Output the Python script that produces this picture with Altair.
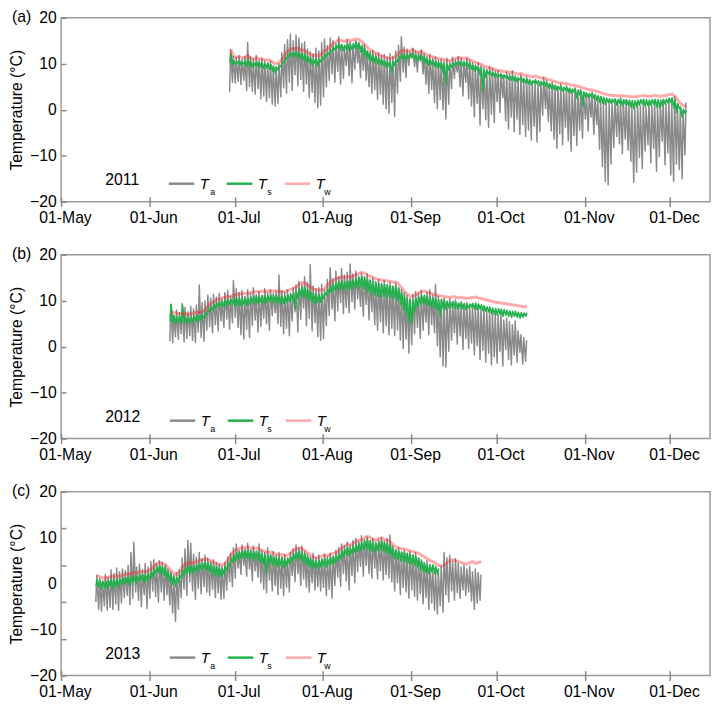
import altair as alt
import pandas as pd

FONT = "Liberation Sans"
SERIES = ["Ta", "Ts", "Tw"]
SUBS = ["a", "s", "w"]
COLORS = ["#8a8a8a", "#22b14c", "rgba(255, 30, 30, 0.38)"]
WIDTHS = [1.5, 1.6, 3.0]

# ---------------- (a) 2011 : daily extremes (deg C), first day 29 Jun ----------------
A_START = "2011-06-29"
A_TA_MAX = [13.0, 11.5,
    11.4, 11.8, 11.0, 11.6, 14.6, 11.5, 11.0, 11.8, 10.8, 11.2, 10.6, 10.2, 10.5, 9.6, 9.4, 10.0, 12.4, 14.2, 15.2, 16.4,
    15.0, 16.2, 15.6, 14.4, 14.8, 13.2, 12.6, 12.2, 13.4, 12.8, 14.6,
    15.4, 14.0, 15.6, 15.0, 14.4, 15.8, 14.2, 13.6, 15.2, 14.8, 13.8, 15.0, 14.6, 13.6, 14.2, 12.8, 12.6, 13.0, 12.2, 12.4,
    11.8, 12.0, 11.4, 12.2, 11.6, 12.8, 14.0, 15.8, 13.6, 13.2, 12.6,
    13.4, 12.8, 12.4, 13.0, 12.2, 11.6, 12.0, 11.2, 11.4, 10.8, 11.0, 10.6, 11.2, 10.4, 11.4, 10.8, 11.6, 11.2, 10.6, 11.2,
    10.8, 10.2, 9.8, 10.2, 9.6, 9.2, 8.8, 9.4, 9.0, 8.4,
    8.6, 8.0, 7.6, 8.2, 7.8, 8.4, 7.4, 7.0, 7.6, 6.8, 7.2, 6.6, 6.0, 6.4, 5.8, 6.2, 7.0, 6.4, 5.6, 6.0,
    5.4, 5.0, 5.6, 4.8, 5.2, 4.6, 4.2, 4.8, 4.0, 4.4, 3.8,
    3.6, 3.2, 3.8, 3.0, 2.6, 2.2, 1.8, 1.4, 2.0, 1.6, 2.4, 2.0, 2.6, 1.8, 2.2, 1.4, 1.0, 0.6, 1.2, 0.8,
    1.4, 0.4, 1.6, 1.0, 1.8, 0.8, 1.4, 2.2, 1.2, 2.4,
    1.6, 2.8, 1.0, 0.4, -0.4, 1.6]
A_TA_MIN = [3.8, 6.0,
    5.8, 6.2, 5.5, 6.4, 4.2, 5.0, 4.0, 3.4, 4.6, 2.4, 3.0, 1.8, 2.6, 1.2, 0.8, 1.4, 2.8, 4.8, 3.6, 6.0,
    4.2, 7.6, 5.2, 6.6, 4.0, 5.6, 2.6, 3.8, 1.6, 0.4, 1.0,
    2.8, 5.0, 6.4, 7.8, 6.0, 8.4, 5.6, 6.8, 9.6, 7.4, 5.8, 8.8, 10.2, 7.0, 8.6, 6.4, 5.0, 3.6, 4.4, 2.2,
    3.4, 1.2, 0.2, -0.8, 1.6, -1.4, 3.6, 6.2, 8.2, 7.0, 9.6,
    11.2, 9.4, 8.2, 10.6, 7.8, 5.6, 3.6, 4.4, 1.6, 0.2, 2.2, 0.0, -2.0, 1.2, 4.6, 6.8, 8.2, 5.0, 3.0, 6.0,
    2.4, 0.8, -1.6, 1.4, -3.4, 0.2, -2.2, -3.8, -1.0, -2.8,
    1.8, -0.6, 2.6, -2.4, -4.2, -1.6, -4.8, -2.0, -5.4, -3.2, -5.8, -4.4, -6.6, -3.6, -7.0, -4.8, -1.2, 0.2, -2.6, -4.6,
    -6.4, -8.4, -5.2, -7.6, -3.8, -6.8, -9.0, -5.6, -7.8, -4.4, -6.2,
    -2.0, -4.6, -1.6, -5.4, -3.2, -8.6, -12.4, -15.6, -16.4, -11.8, -8.2, -5.8, -7.4, -9.6, -6.4, -8.8, -11.2, -15.8, -13.6, -10.4,
    -12.8, -9.0, -7.6, -11.6, -8.4, -13.4, -10.2, -6.8, -12.0, -9.4,
    -14.2, -15.6, -11.8, -13.0, -15.0, -9.8]
A_TS_MAX = [12.3, 10.7,
    10.5, 10.7, 10.4, 10.6, 11.1, 10.4, 10.2, 10.5, 10.3, 10.2, 10.0, 10.1, 9.9, 9.4, 9.2, 9.5, 10.3, 11.3, 11.9, 12.5,
    12.4, 12.7, 12.4, 12.2, 12.0, 11.6, 11.3, 10.9, 11.1, 10.9, 11.4,
    12.0, 12.4, 13.0, 13.6, 14.0, 14.4, 14.2, 14.0, 14.4, 14.2, 14.4, 14.6, 14.5, 14.0, 13.4, 12.8, 12.2, 11.8, 11.5, 11.2,
    10.9, 10.7, 10.5, 10.3, 10.5, 10.8, 11.5, 12.1, 12.0, 11.9, 12.1,
    12.3, 11.9, 11.7, 11.9, 11.5, 11.1, 10.9, 10.7, 10.5, 10.3, 10.3, 10.1, 9.9, 9.9, 10.1, 10.3, 10.5, 10.5, 10.3, 10.5,
    10.1, 9.7, 9.5, 9.3, 9.1, 8.7, 8.5, 8.3, 8.1, 7.9,
    7.7, 7.7, 7.5, 7.5, 7.3, 7.4, 7.1, 6.9, 7.1, 6.7, 6.7, 6.5, 6.3, 6.5, 6.3, 6.1, 6.1, 5.9, 5.7, 5.5,
    5.3, 5.1, 5.1, 4.9, 4.9, 4.7, 4.5, 4.5, 4.3, 4.1, 3.9,
    3.7, 3.5, 3.5, 3.3, 3.1, 2.9, 2.7, 2.5, 2.4, 2.3, 2.3, 2.2, 2.3, 2.2, 2.1, 2.1, 2.0, 2.0, 2.1, 2.2,
    2.3, 2.2, 2.1, 2.2, 2.3, 2.2, 2.1, 2.2, 2.3, 2.5,
    2.6, 2.2, 1.3, 0.6, 0.1, -0.2]
A_TS_MIN = [10.2, 9.8,
    9.8, 10.0, 9.6, 9.9, 9.4, 9.6, 9.2, 9.5, 9.3, 9.2, 8.9, 9.1, 8.8, 8.4, 8.0, 8.6, 9.4, 10.2, 11.0, 11.6,
    11.4, 11.8, 11.2, 11.2, 10.8, 10.4, 10.2, 9.6, 10.0, 9.4, 10.4,
    11.0, 11.6, 12.0, 12.6, 13.0, 13.4, 13.0, 12.8, 13.2, 12.8, 13.0, 13.4, 13.2, 12.6, 11.8, 11.2, 10.8, 10.4, 10.2, 10.0,
    9.8, 9.6, 9.2, 9.4, 8.0, 9.6, 10.4, 11.2, 11.0, 10.8, 11.2,
    11.4, 11.0, 10.6, 11.0, 10.4, 10.0, 9.6, 9.8, 9.4, 9.2, 9.0, 8.0, 5.6, 8.6, 9.2, 9.6, 9.8, 9.6, 9.4, 9.6,
    9.0, 8.8, 8.4, 8.6, 7.4, 4.0, 7.0, 7.8, 7.4, 7.2,
    7.0, 7.2, 6.8, 7.0, 6.6, 6.4, 6.2, 6.0, 6.4, 6.0, 5.8, 5.6, 5.4, 5.8, 5.6, 5.2, 5.4, 5.2, 4.8, 4.6,
    4.4, 4.2, 4.4, 4.0, 4.2, 3.8, 3.6, 3.8, 2.4, 3.2, 0.8,
    2.8, 2.6, 2.8, 2.4, 2.0, 1.6, 1.4, 1.2, 1.6, 1.4, 1.6, 1.0, 1.4, 0.8, 1.2, 1.0, 0.6, 0.2, 0.6, 1.0,
    1.2, 0.6, 0.8, 1.0, 1.2, 0.6, 0.4, 0.8, 1.2, 1.4,
    1.6, 0.4, -0.6, 0.2, -1.6, -0.8]
A_TW = [13.2, 11.6,
    11.4, 11.5, 11.3, 11.4, 11.8, 11.2, 11.0, 11.3, 11.1, 11.0, 10.8, 10.9, 10.7, 10.2, 10.0, 10.3, 11.0, 12.0, 12.7, 13.3,
    13.2, 13.5, 13.2, 13.0, 12.8, 12.4, 12.1, 11.7, 11.9, 11.7, 12.2,
    12.8, 13.2, 13.8, 14.4, 14.8, 15.2, 15.0, 14.8, 15.2, 15.0, 15.2, 15.4, 15.3, 14.8, 14.2, 13.6, 13.0, 12.6, 12.3, 12.0,
    11.7, 11.5, 11.3, 11.1, 11.3, 11.6, 12.3, 12.9, 12.8, 12.7, 12.9,
    13.1, 12.7, 12.5, 12.7, 12.3, 11.9, 11.7, 11.5, 11.3, 11.1, 11.1, 10.9, 10.7, 10.7, 10.9, 11.1, 11.3, 11.3, 11.1, 11.3,
    10.9, 10.5, 10.3, 10.1, 9.9, 9.5, 9.3, 9.1, 8.9, 8.7,
    8.5, 8.5, 8.3, 8.3, 8.1, 8.2, 7.9, 7.7, 7.9, 7.5, 7.5, 7.3, 7.1, 7.3, 7.1, 6.9, 6.9, 6.7, 6.5, 6.3,
    6.1, 5.9, 5.9, 5.7, 5.7, 5.5, 5.3, 5.3, 5.1, 4.9, 4.7,
    4.5, 4.3, 4.3, 4.1, 3.9, 3.7, 3.5, 3.3, 3.2, 3.1, 3.1, 3.0, 3.1, 3.0, 2.9, 2.9, 2.8, 2.8, 2.9, 3.0,
    3.1, 3.0, 2.9, 3.0, 3.1, 3.0, 2.9, 3.0, 3.1, 3.3,
    3.4, 3.0, 2.1, 1.4, 0.9, 0.6]

# ---------------- (b) 2012 : first day 8 Jun ----------------
B_START = "2012-06-08"
B_TA_MAX = [9.2, 6.8, 8.0, 7.4, 9.4, 8.6, 7.6, 8.8, 8.2, 9.0, 13.4, 9.6, 10.0, 11.2, 10.6, 11.4, 10.8, 11.6, 10.4, 11.8,
    12.2, 11.0, 14.4,
    12.6, 11.8, 12.2, 11.0, 12.4, 11.6, 12.8, 11.4, 12.0, 11.2, 12.6, 11.8, 12.4, 11.6, 12.0, 15.6, 12.2, 11.8, 12.4, 11.6,
    12.8, 13.4, 14.2, 13.6, 15.2, 14.0, 17.8, 13.2, 12.6, 12.8, 13.6,
    12.4, 14.6, 17.2, 14.8, 16.4, 15.2, 17.0, 15.6, 16.2, 18.0, 15.8, 16.4, 15.4, 16.0, 15.2, 15.8, 14.6, 15.0, 14.2, 14.6,
    13.8, 14.4, 13.6, 14.0, 13.2, 13.8, 12.8, 12.4, 11.8, 11.2, 10.6,
    11.4, 12.0, 11.6, 12.2, 11.0, 11.8, 12.4, 11.2, 13.6, 11.0, 10.2, 10.6, 9.8, 10.4, 9.6, 10.2, 9.4, 9.8, 9.2, 9.6,
    8.8, 9.4, 8.6, 9.0, 8.4, 8.8, 7.8, 8.2, 7.6, 7.2,
    6.8, 7.4, 5.8, 6.2, 5.4, 4.8, 5.6, 3.4, 2.6, 2.0, 1.4]
B_TA_MIN = [1.2, 0.8, 2.2, 1.6, 2.8, 1.0, 1.8, 2.4, 1.4, 0.9, 3.2, 2.0, 1.2, 3.6, 4.4, 3.0, 4.8, 3.4, 5.6, 4.2,
    6.0, 3.8, 5.2,
    6.4, 4.2, 2.6, 1.6, 3.8, 2.0, 4.6, 5.8, 3.2, 4.4, 6.2, 5.0, 3.6, 6.8, 7.4, 5.0, 4.4, 2.8, 4.0, 2.4,
    5.6, 7.6, 3.2, 6.0, 8.4, 4.6, 6.2, 3.4, 5.2, 2.2, 1.4,
    1.8, 4.6, 6.8, 8.2, 5.6, 7.8, 9.6, 7.2, 8.6, 7.4, 9.8, 8.2, 10.4, 8.8, 6.6, 9.2, 5.8, 7.6, 4.8, 3.6,
    5.4, 3.0, 4.6, 2.6, 4.0, 2.4, 3.6, 1.4, -0.4, 1.6, -1.4,
    0.4, 2.8, 4.2, 1.8, 3.6, 5.4, 2.6, 4.8, 3.0, 0.2, -2.2, -4.2, -4.4, -1.0, 1.4, 3.0, 0.6, 2.4, -0.6, 1.8,
    -0.4, 0.8, -1.8, 0.2, -2.8, -0.8, -3.4, -1.4, -4.0, -2.2,
    -3.6, -1.0, -4.2, -0.6, -2.8, -4.0, -1.8, -3.4, -1.2, -3.8, -3.2]
B_TS_MAX = [9.2, 6.7, 6.5, 6.6, 9.0, 6.5, 6.3, 6.5, 6.6, 6.8, 6.7, 6.9, 7.3, 8.1, 8.7, 9.1, 9.5, 9.7, 9.9, 10.1,
    10.2, 10.3, 10.5,
    10.4, 10.5, 10.5, 10.6, 10.6, 10.8, 10.9, 11.0, 10.9, 11.1, 11.0, 11.1, 11.2, 11.1, 11.2, 11.0, 10.9, 11.0, 11.2, 11.4,
    11.7, 12.0, 12.6, 13.0, 12.8, 12.4, 11.9, 11.6, 11.4, 11.3, 11.4,
    11.7, 12.5, 13.1, 13.5, 13.9, 14.1, 14.3, 14.1, 14.4, 14.2, 14.5, 14.8, 15.0, 15.3, 15.1, 14.7, 14.4, 14.1, 13.9, 13.7,
    13.6, 13.5, 13.4, 13.3, 13.1, 13.2, 12.7, 11.9, 11.1, 10.5, 10.1,
    10.1, 10.4, 10.8, 11.1, 11.2, 11.0, 10.7, 10.6, 10.4, 10.2, 10.3, 10.1, 9.9, 9.7, 9.9, 9.7, 9.5, 9.6, 9.4, 9.2,
    9.3, 9.4, 9.5, 9.3, 9.1, 8.9, 8.7, 8.6, 8.4, 8.3,
    8.3, 8.2, 8.1, 7.9, 7.8, 7.7, 7.7, 7.5, 7.4, 7.3, 7.4]
B_TS_MIN = [5.6, 5.2, 5.0, 5.4, 5.0, 5.3, 5.1, 5.4, 5.2, 5.6, 5.4, 5.8, 6.2, 7.0, 7.6, 8.0, 8.4, 8.6, 8.8, 8.6,
    9.0, 9.2, 9.2,
    8.8, 9.0, 8.8, 9.2, 9.0, 9.2, 9.4, 9.6, 9.2, 9.6, 9.4, 9.6, 9.8, 9.6, 9.8, 9.4, 9.2, 9.4, 9.6, 9.8,
    10.0, 8.2, 10.4, 11.0, 10.8, 10.4, 10.0, 9.8, 9.4, 9.6, 9.6,
    10.4, 11.2, 11.6, 12.0, 12.2, 12.4, 12.6, 12.2, 12.6, 12.4, 12.6, 12.8, 12.8, 13.0, 12.6, 12.2, 11.8, 11.4, 11.2, 11.0,
    10.8, 11.0, 10.6, 10.8, 10.4, 10.6, 10.0, 9.2, 8.0, 7.0, 5.4,
    5.2, 7.6, 8.6, 9.2, 9.4, 9.0, 8.8, 8.6, 8.4, 8.0, 6.4, 8.2, 8.0, 8.4, 8.6, 8.4, 8.2, 8.4, 8.2, 8.0,
    8.4, 8.6, 8.2, 8.0, 8.2, 7.8, 7.6, 7.6, 7.2, 7.0,
    6.8, 7.0, 6.6, 6.8, 6.6, 6.4, 6.6, 6.4, 6.2, 6.4, 6.6]
B_TW = [7.6, 7.4, 7.2, 7.3, 7.1, 7.2, 7.0, 7.2, 7.3, 7.5, 7.4, 7.6, 8.0, 8.8, 9.4, 9.8, 10.2, 10.4, 10.6, 10.8,
    10.9, 11.0, 11.2,
    11.4, 11.5, 11.5, 11.6, 11.6, 11.8, 11.9, 12.0, 11.9, 12.1, 12.0, 12.1, 12.2, 12.1, 12.2, 12.0, 11.9, 12.0, 12.2, 12.4,
    12.7, 13.0, 13.6, 14.0, 13.8, 13.4, 12.9, 12.6, 12.4, 12.3, 12.4,
    12.6, 13.4, 14.0, 14.4, 14.8, 15.0, 15.2, 15.0, 15.3, 15.1, 15.4, 15.7, 15.9, 16.2, 16.0, 15.6, 15.3, 15.0, 14.8, 14.6,
    14.5, 14.4, 14.3, 14.2, 14.0, 14.1, 13.6, 12.8, 12.0, 11.4, 11.0,
    11.0, 11.3, 11.7, 12.0, 12.1, 11.9, 11.6, 11.5, 11.3, 11.1, 11.0, 10.9, 10.8, 10.7, 10.9, 10.8, 10.6, 10.7, 10.6, 10.5,
    10.6, 10.7, 10.8, 10.6, 10.5, 10.3, 10.1, 10.0, 9.8, 9.7,
    9.6, 9.5, 9.4, 9.3, 9.2, 9.1, 9.0, 8.9, 8.8, 8.7, 8.8]

# ---------------- (c) 2013 : first day 13 May ----------------
C_START = "2013-05-13"
C_TA_MAX = [1.8, 1.2, 0.6, 2.0, 1.4, 3.0, 2.2, 3.4, 2.6, 3.2, 2.8, 4.0, 6.8, 9.0, 3.6, 4.2, 3.0, 4.4, 3.6,
    4.8, 5.2, 4.4, 5.0, 4.6, 4.0, 3.2, 2.6, 1.8, 2.4, 3.0, 5.6, 7.6, 9.4, 8.8, 6.4, 5.8, 6.8, 5.4, 6.2,
    5.6, 4.8, 5.2, 4.6, 4.2, 3.8, 4.6, 5.8, 6.6, 7.8,
    8.6, 7.2, 8.4, 7.6, 8.8, 7.4, 8.2, 7.0, 8.6, 7.2, 6.8, 7.8, 6.4, 7.0, 6.2, 6.8, 5.8, 6.4, 5.6, 6.8,
    7.6, 8.4, 7.8, 8.2, 7.0, 6.4, 5.8, 6.6, 5.6, 6.2, 5.4,
    6.4, 5.8, 6.6, 6.0, 7.2, 7.8, 8.6, 8.2, 9.0, 8.4, 9.4, 9.8, 9.2, 10.4, 9.6, 10.2, 9.4, 9.8, 9.0, 9.6,
    10.0, 9.2, 9.8, 10.6, 8.2, 7.4, 7.8, 6.8, 7.2, 6.6, 7.0,
    6.2, 6.8, 5.6, 5.2, 4.6, 5.0, 4.2, 3.6, 3.0, 2.6, 3.8, 6.8, 5.6, 6.2, 4.8, 5.4, 4.4, 3.6, 4.0, 3.2,
    3.8, 2.6, 3.2, 2.4, 2.0]
C_TA_MIN = [-4.0, -5.6, -6.0, -4.8, -5.8, -5.2, -5.6, -4.4, -5.8, -4.2, -3.0, -2.6, -4.6, -3.2, -1.8, -3.6, -5.0, -2.4, -5.4,
    -3.2, -1.6, -2.8, -4.0, -1.8, -3.6, -2.4, -4.6, -6.4, -8.2, -5.6, -3.0, -1.2, -2.6, 0.4, -1.6, -3.4, -1.0, -2.2, -0.6,
    -1.8, -2.6, -1.2, -3.0, -2.0, -3.4, -3.2, -1.4, 0.4, -0.6,
    1.2, 3.4, 2.0, 4.0, 1.6, 3.2, 0.6, 2.8, 1.4, 0.2, -1.2, -2.0, 0.8, -1.6, -0.4, -2.4, -1.0, -2.6, -0.8, -1.8,
    1.8, 0.4, 2.2, -0.4, 1.0, -0.8, -1.8, 0.2, -1.4, -0.6, -1.6,
    -0.8, -2.6, -1.2, -3.2, -0.4, 1.4, -0.6, 2.2, 0.6, -1.4, 1.8, 0.2, 2.6, 3.8, 1.6, 4.0, 2.2, 1.2, 3.4, 1.0,
    2.8, 0.8, 2.0, 1.2, 0.4, -1.6, 0.2, -2.4, -0.8, -1.8, -3.2,
    -1.4, -2.8, -3.6, -2.2, -4.4, -3.0, -5.6, -4.2, -5.8, -6.6, -4.8, -6.2, -2.4, -4.0, -1.6, -3.6, -2.0, -3.2, -1.4, -2.6,
    -1.8, -3.8, -5.6, -4.2, -3.6]
C_TS_MAX = [0.9, 0.7, 0.5, 0.6, 0.7, 0.9, 0.7, 1.1, 0.9, 1.2, 1.3, 1.5, 1.4, 1.7, 1.6, 1.9, 2.0, 1.9, 2.1,
    2.5, 3.1, 3.7, 3.9, 3.7, 3.5, 2.7, 2.1, 1.5, 1.3, 1.9, 2.9, 3.5, 3.9, 3.7, 3.9, 4.1, 4.3, 4.5, 4.7,
    4.5, 4.3, 3.9, 3.7, 3.5, 3.3, 3.7, 4.5, 5.5, 6.3,
    6.7, 6.9, 7.1, 7.2, 7.3, 7.1, 6.9, 7.1, 6.8, 6.5, 6.3, 6.1, 6.2, 5.9, 5.7, 5.5, 5.7, 5.3, 5.5, 5.9,
    6.5, 6.9, 7.1, 6.9, 6.5, 5.9, 5.5, 5.1, 4.9, 5.1, 5.3,
    5.5, 5.3, 5.7, 5.9, 6.1, 6.5, 7.1, 7.5, 7.9, 7.7, 8.1, 8.5, 8.7, 8.9, 9.3, 9.6, 9.3, 8.9, 8.7, 9.1,
    9.3, 8.9, 8.7, 8.5, 7.7, 7.3, 7.1, 6.9, 6.8, 6.6, 6.4,
    6.2, 5.9, 5.5, 4.9, 4.5, 4.1, 3.9, 4.1, 3.7, 3.3]
C_TS_MIN = [-0.6, -0.8, -1.2, -0.9, -1.0, -0.6, -1.2, -0.4, -0.8, -0.2, 0.0, 0.2, -0.4, 0.4, 0.0, 0.6, 0.8, 0.2, 0.6,
    1.0, 1.6, 2.2, 2.4, 2.0, 1.8, 1.0, 0.4, -0.2, -0.6, 0.2, 1.2, 1.8, 2.4, 2.0, 2.4, 2.6, 2.8, 3.0, 3.2,
    2.8, 2.6, 2.0, 1.8, 1.6, 1.4, 2.0, 2.8, 3.8, 4.6,
    5.0, 5.2, 5.4, 5.6, 5.6, 5.4, 5.0, 5.4, 5.0, 4.6, 4.2, 2.4, 4.4, 4.0, 3.8, 3.6, 4.0, 3.4, 3.8, 4.2,
    4.8, 5.2, 5.4, 5.0, 4.6, 4.0, 3.6, 3.4, 3.2, 3.4, 3.6,
    3.8, 3.6, 4.0, 4.2, 4.4, 4.8, 5.4, 5.8, 6.2, 6.0, 6.4, 6.8, 7.0, 7.2, 7.4, 7.6, 7.2, 7.0, 6.8, 7.2,
    7.4, 7.0, 6.6, 6.4, 5.8, 5.4, 5.2, 5.0, 4.8, 4.6, 4.4,
    4.2, 4.0, 3.6, 3.0, 2.6, 2.4, 2.2, 2.6, 2.2, 2.0]
C_TW = [1.8, 1.5, 1.2, 1.3, 1.4, 1.6, 1.5, 1.8, 1.6, 1.9, 2.0, 2.2, 2.1, 2.4, 2.3, 2.6, 2.7, 2.6, 2.8,
    3.2, 3.8, 4.4, 4.6, 4.4, 4.2, 3.4, 2.8, 2.2, 2.0, 2.6, 3.6, 4.2, 4.6, 4.4, 4.6, 4.8, 5.0, 5.2, 5.4,
    5.2, 5.0, 4.6, 4.4, 4.2, 4.0, 4.4, 5.2, 6.2, 7.0,
    7.4, 7.6, 7.8, 7.9, 8.0, 7.8, 7.6, 7.8, 7.5, 7.2, 7.0, 6.8, 6.9, 6.6, 6.4, 6.2, 6.4, 6.0, 6.2, 6.6,
    7.2, 7.6, 7.8, 7.6, 7.2, 6.6, 6.2, 5.8, 5.6, 5.8, 6.0,
    6.2, 6.0, 6.4, 6.6, 6.8, 7.2, 7.8, 8.2, 8.6, 8.4, 8.8, 9.2, 9.4, 9.6, 10.0, 10.3, 10.0, 9.6, 9.4, 9.8,
    10.0, 9.6, 9.4, 9.2, 8.4, 8.0, 7.8, 7.6, 7.5, 7.3, 7.1,
    7.0, 6.8, 6.6, 6.2, 5.8, 5.4, 5.0, 4.8, 4.4, 4.0, 3.8, 4.0, 4.6, 5.0, 5.2, 5.0, 4.8, 4.6, 4.4, 4.2,
    4.6, 4.8, 4.4, 4.6, 4.8]

Y_TICKS = [-20, -10, 0, 10, 20]
C_TICK_MARKS = [-20, -12, -4, 4, 12, 20]   # panel (c) draws its ticks at these values

# legend geometry (px)
SYM_W = 26
T_OFFSET = 4
T_WIDTH = 9.2          # italic "T" at 15 px
SUB_GAP = 1.0
SUB_WIDTH_MAX = 6.5    # "w" at 9 px
COL_PAD = 12
SUB_PAD_FIX = 3.4      # measured pitch difference between the two legends
TITLE_W = 35.6         # "2011" at 16 px
TITLE_PAD = 28
LEG_X = 45
LEG_Y = 154


def build(start, ta_max, ta_min, ts_max, ts_min, tw):
    d0 = pd.Timestamp(start)
    rows = []
    for i, (hi, lo) in enumerate(zip(ta_max, ta_min)):
        d = d0 + pd.Timedelta(days=i)
        rows.append((d + pd.Timedelta(hours=5), lo, "Ta"))
        rows.append((d + pd.Timedelta(hours=13), hi, "Ta"))
    for i, (hi, lo) in enumerate(zip(ts_max, ts_min)):
        d = d0 + pd.Timedelta(days=i)
        rows.append((d + pd.Timedelta(hours=7), lo, "Ts"))
        rows.append((d + pd.Timedelta(hours=16), hi, "Ts"))
    for i, v in enumerate(tw):
        d = d0 + pd.Timedelta(days=i)
        rows.append((d + pd.Timedelta(hours=15), v, "Tw"))
    df = pd.DataFrame(rows, columns=["t", "v", "series"])
    df["sub"] = df["series"].map(dict(zip(SERIES, SUBS)))
    df["t"] = df["t"].dt.strftime("%Y-%m-%dT%H:%M:%S")
    return df


def panel(df, year, letter, tick_marks=None):
    def dt(m, d):
        return alt.DateTime(year=year, month=m, date=d)

    x = alt.X("t:T",
              scale=alt.Scale(domain=[dt(5, 1), dt(12, 15)]),
              axis=alt.Axis(values=[dt(m, 1) for m in range(5, 13)], format="%d-%b", title=None,
                            offset=-5, tickSize=10, labelPadding=3, labelOffset=4,
                            labelFlush=False, domain=False, grid=False))
    yscale = alt.Scale(domain=[-20, 20], nice=False, zero=False)
    y_main = alt.Y("v:Q", scale=yscale,
                   axis=alt.Axis(values=Y_TICKS, title="Temperature (°C)", orient="left", offset=-5,
                                 tickSize=5, tickOpacity=0 if tick_marks else 1,
                                 labelPadding=5, titlePadding=5, domain=False, grid=False))
    if tick_marks:
        y_ticks = alt.Y("v:Q", scale=yscale,
                        axis=alt.Axis(values=tick_marks, labels=False, title=None, orient="left",
                                      offset=-5, tickSize=5, domain=False, grid=False))
        y_none = alt.Y("v:Q", scale=yscale, axis=None)
        ys = [y_ticks, y_main, y_none]
    else:
        ys = [y_main, y_main, y_main]

    color = alt.Color("series:N",
                      scale=alt.Scale(domain=SERIES, range=COLORS),
                      legend=alt.Legend(title=str(year), orient="none", legendX=LEG_X, legendY=LEG_Y,
                                        direction="horizontal", titleOrient="left",
                                        titleAnchor="middle", titleBaseline="middle",
                                        titleFontSize=16, titleFontWeight="normal", titlePadding=TITLE_PAD,
                                        labelExpr="'T'", labelFontStyle="italic", labelFontSize=15,
                                        labelOffset=T_OFFSET, columnPadding=COL_PAD, padding=0,
                                        gridAlign="all",
                                        symbolType="stroke", symbolSize=SYM_W * SYM_W,
                                        symbolStrokeWidth=2.5))
    sub_offset = T_OFFSET + T_WIDTH + SUB_GAP
    dash = alt.StrokeDash("sub:N",
                          scale=alt.Scale(domain=SUBS, range=[[1, 0], [1, 0], [1, 0]]),
                          legend=alt.Legend(title=None, orient="none",
                                            legendX=LEG_X + TITLE_W + TITLE_PAD, legendY=LEG_Y + 8.5,
                                            direction="horizontal",
                                            labelFontSize=9, labelOffset=sub_offset,
                                            columnPadding=COL_PAD + T_OFFSET + T_WIDTH - sub_offset
                                            - SUB_WIDTH_MAX + SUB_PAD_FIX,
                                            padding=0, gridAlign="all",
                                            symbolType="stroke", symbolSize=SYM_W * SYM_W,
                                            symbolStrokeWidth=2.5, symbolOpacity=0))
    layers = [
        alt.Chart(df).transform_filter(alt.datum.series == s)
        .mark_line(strokeWidth=w, strokeJoin="round")
        .encode(x=x, y=yy, color=color, strokeDash=dash)
        for s, w, yy in zip(SERIES, WIDTHS, ys)
    ]
    lay = alt.layer(*layers)
    if tick_marks:
        lay = lay.resolve_axis(y="independent")
    return lay.properties(
        width=660, height=187,
        title=alt.TitleParams(text=f"({letter})", anchor="start", frame="group", orient="top",
                              offset=0, dx=-50, dy=23, baseline="middle", fontSize=16,
                              fontWeight="normal", color="black"))


pa = panel(build(A_START, A_TA_MAX, A_TA_MIN, A_TS_MAX, A_TS_MIN, A_TW), 2011, "a")
pb = panel(build(B_START, B_TA_MAX, B_TA_MIN, B_TS_MAX, B_TS_MIN, B_TW), 2012, "b")
pc = panel(build(C_START, C_TA_MAX, C_TA_MIN, C_TS_MAX, C_TS_MIN, C_TW), 2013, "c",
           tick_marks=C_TICK_MARKS)

chart = (
    alt.vconcat(pa, pb, pc, spacing=19)
    .resolve_scale(x="independent", color="independent", strokeDash="independent")
    .resolve_legend(color="independent", strokeDash="independent")
    .properties(padding={"left": 0, "top": -6, "right": 0, "bottom": 0})
    .configure(font=FONT)
    .configure_view(stroke="#999999", strokeWidth=1.5)
    .configure_axis(labelFont=FONT, labelFontSize=16, labelColor="black", titleFont=FONT,
                    titleFontSize=16, titleFontWeight="normal", titleColor="black",
                    tickColor="#888888", tickWidth=1.5)
    .configure_legend(labelFont=FONT, titleFont=FONT, labelColor="black", titleColor="black")
    .configure_title(font=FONT)
)

chart.save("out.html", embed_options={"renderer": "svg", "actions": False})
